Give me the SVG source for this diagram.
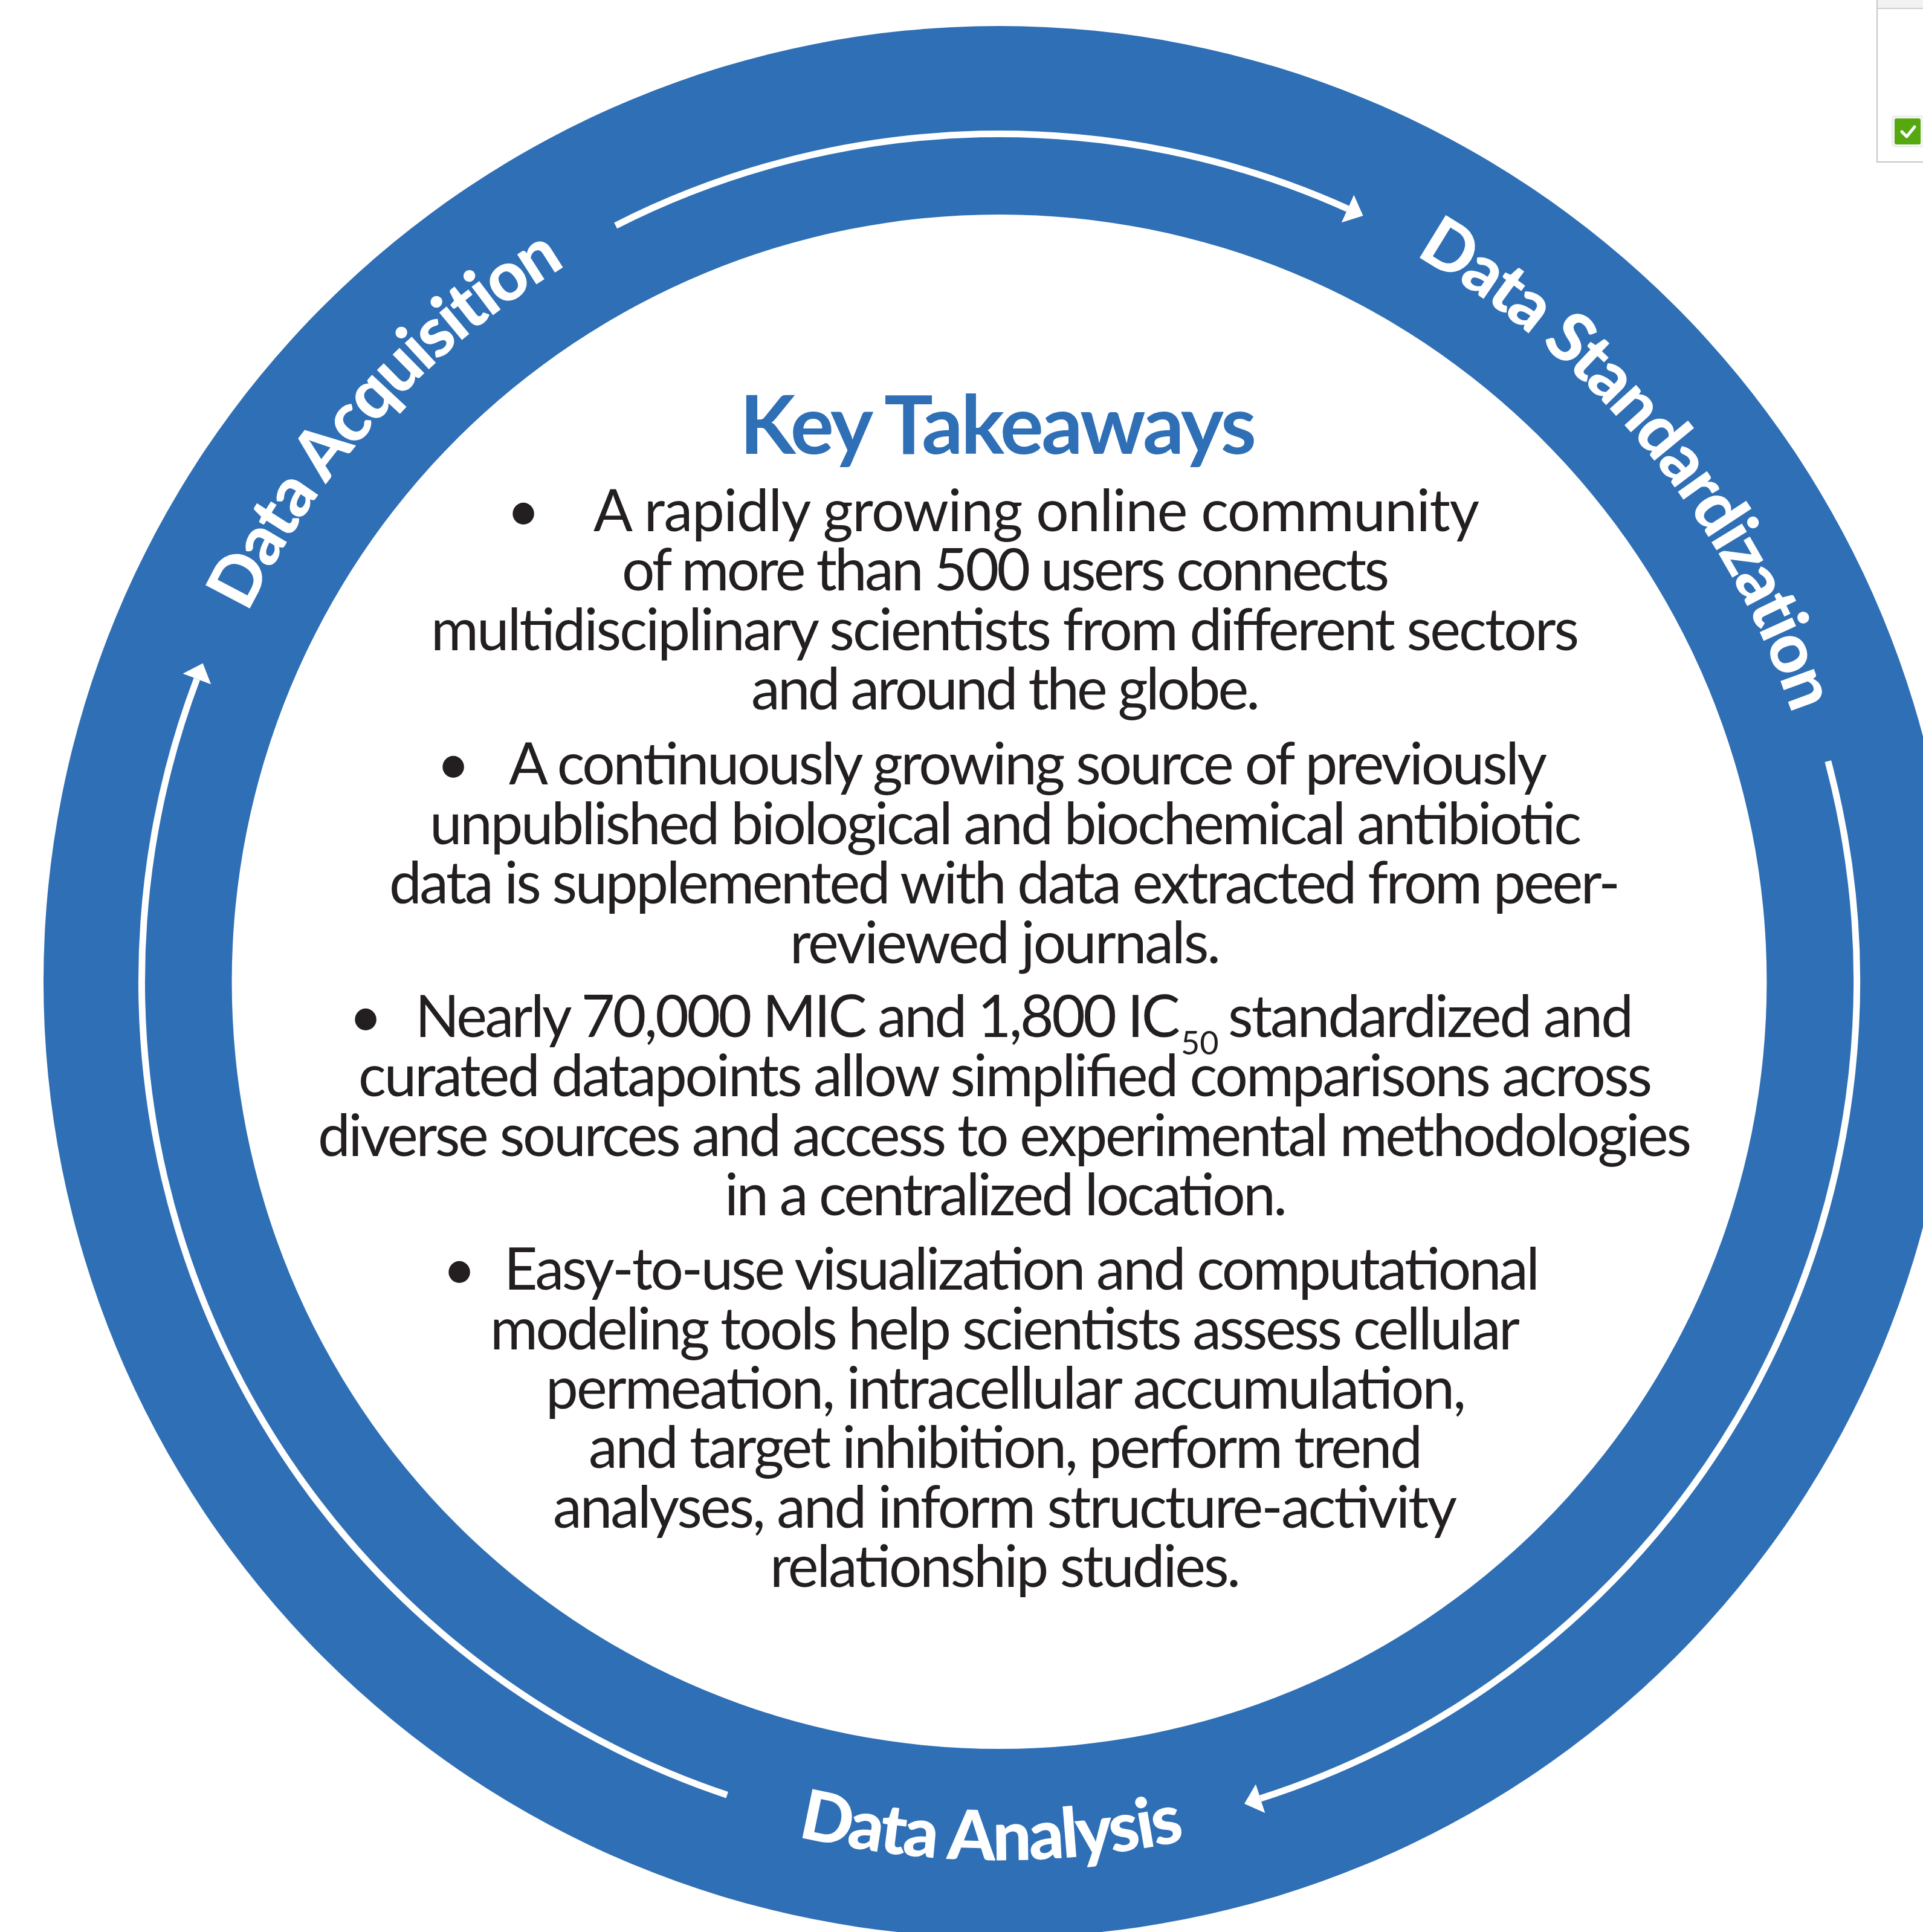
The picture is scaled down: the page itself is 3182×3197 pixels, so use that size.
<svg xmlns="http://www.w3.org/2000/svg" width="3182" height="3197" viewBox="0 0 3182 3197">
  <style>
    .body { font-family: Lato, "Liberation Sans", sans-serif; font-size: 96px; fill: #231F20; }
    .body.sub { font-size: 54px; }
    .mid { text-anchor: middle; }
    .title { font-family: Lato, "Liberation Sans", sans-serif; font-size: 135px; font-weight: 700; fill: #2F6FB6; }
    .ring-label { font-family: Lato, "Liberation Sans", sans-serif; font-size: 114px; font-weight: 900; letter-spacing: -3.5px; fill: #FFFFFF; }
    .flow { fill: none; stroke: #FFFFFF; stroke-width: 11; }
  </style>
  <defs>
    <marker id="head" markerUnits="userSpaceOnUse" markerWidth="40" markerHeight="60" viewBox="0 -30 40 60" refX="0" refY="0" orient="auto">
      <path d="M0,-25 L28,0 L0,25 z" fill="#FFFFFF"/>
    </marker>
    <!-- baselines for the curved stage labels (centre 1653.5,1624.5) -->
    <path id="arcAcq" d="M269.9,1687.3 A1385,1385 0 0 1 1590.7,240.9"/>
    <path id="arcStd" d="M1786.3,245.9 A1385,1385 0 0 1 3032.1,1757.3"/>
    <path id="arcAna" d="M707.2,2728.1 A1453.5,1453.5 0 0 0 2576.4,2747.4"/>
  </defs>

  <rect width="3182" height="3197" fill="#FFFFFF"/>

  <!-- blue ring -->
  <g id="ring">
    <path d="M1653.5,43 A1581.5,1581.5 0 1 1 1653.5,3206 A1581.5,1581.5 0 1 1 1653.5,43 Z M1653.5,355 A1269.5,1269.5 0 1 0 1653.5,2894 A1269.5,1269.5 0 1 0 1653.5,355 Z" fill="#2F6FB6" fill-rule="evenodd"/>
  </g>

  <!-- cycle arrows inside the ring -->
  <g id="connectors">
    <path class="flow" d="M1018.7,373.3 A1403,1403 0 0 1 2230.0,345.4" marker-end="url(#head)"/>
    <path class="flow" d="M3024.8,1259.6 A1419,1419 0 0 1 2085.7,2976.1" marker-end="url(#head)"/>
    <path class="flow" d="M1203.2,2970.2 A1419,1419 0 0 1 325.8,1123.6" marker-end="url(#head)"/>
  </g>

  <!-- stage labels -->
  <g id="stage-acquisition">
    <text class="ring-label"><textPath href="#arcAcq" startOffset="50%" text-anchor="middle">Data Acquisition</textPath></text>
  </g>
  <g id="stage-standardization">
    <text class="ring-label"><textPath href="#arcStd" startOffset="50%" text-anchor="middle">Data Standardization</textPath></text>
  </g>
  <g id="stage-analysis">
    <text class="ring-label"><textPath href="#arcAna" startOffset="50%" text-anchor="middle">Data Analysis</textPath></text>
  </g>

  <!-- centre panel -->
  <g id="key-takeaways">
    <text class="title" x="1224" y="751" textLength="855" lengthAdjust="spacing">Key Takeaways</text>

    <g id="point-community">
      <text class="body mid" x="866" y="879">•</text>
      <text class="body" x="982" y="879" textLength="1466" lengthAdjust="spacing">A rapidly growing online community</text>
      <text class="body mid" x="1664" y="977" textLength="1270" lengthAdjust="spacing">of more than 500 users connects</text>
      <text class="body mid" x="1663" y="1076" textLength="1900" lengthAdjust="spacing">multidisciplinary scientists from different sectors</text>
      <text class="body mid" x="1664" y="1174" textLength="842" lengthAdjust="spacing">and around the globe.</text>
    </g>

    <g id="point-source">
      <text class="body mid" x="750" y="1298">•</text>
      <text class="body" x="842" y="1298" textLength="1718" lengthAdjust="spacing">A continuously growing source of previously</text>
      <text class="body mid" x="1664" y="1397" textLength="1906" lengthAdjust="spacing">unpublished biological and biochemical antibiotic</text>
      <text class="body mid" x="1662.5" y="1495" textLength="2037" lengthAdjust="spacing">data is supplemented with data extracted from peer-</text>
      <text class="body mid" x="1663.5" y="1594" textLength="713" lengthAdjust="spacing">reviewed journals.</text>
    </g>

    <g id="point-datapoints">
      <text class="body mid" x="605" y="1716">•</text>
      <text class="body" x="687" y="1716" textLength="1266" lengthAdjust="spacing">Nearly 70,000 MIC and 1,800 IC</text>
      <text class="body sub" x="1954" y="1745">50</text>
      <text class="body" x="2032" y="1716" textLength="671" lengthAdjust="spacing">standardized and</text>
      <text class="body mid" x="1663.5" y="1814" textLength="2141" lengthAdjust="spacing">curated datapoints allow simplified comparisons across</text>
      <text class="body mid" x="1662.5" y="1913" textLength="2273" lengthAdjust="spacing">diverse sources and access to experimental methodologies</text>
      <text class="body mid" x="1664.5" y="2011" textLength="931" lengthAdjust="spacing">in a centralized location.</text>
    </g>

    <g id="point-tools">
      <text class="body mid" x="760" y="2134">•</text>
      <text class="body" x="834" y="2134" textLength="1714" lengthAdjust="spacing">Easy-to-use visualization and computational</text>
      <text class="body mid" x="1663" y="2233" textLength="1704" lengthAdjust="spacing">modeling tools help scientists assess cellular</text>
      <text class="body mid" x="1664.5" y="2331" textLength="1523" lengthAdjust="spacing">permeation, intracellular accumulation,</text>
      <text class="body mid" x="1664" y="2429" textLength="1380" lengthAdjust="spacing">and target inhibition, perform trend</text>
      <text class="body mid" x="1663" y="2528" textLength="1496" lengthAdjust="spacing">analyses, and inform structure-activity</text>
      <text class="body mid" x="1663.5" y="2626" textLength="779" lengthAdjust="spacing">relationship studies.</text>
    </g>
  </g>

  <!-- small panel in the top-right corner -->
  <g id="corner-panel">
    <rect x="3106" y="-2" width="90" height="270" fill="#FFFFFF" stroke="#C6C6C6" stroke-width="2"/>
    <rect x="3107" y="0" width="80" height="13" fill="#F2F2F2"/>
    <line x1="3106" y1="14" x2="3182" y2="14" stroke="#D0D0D0" stroke-width="2"/>
    <rect x="3131" y="192" width="60" height="51" rx="4" fill="#F3F3F3" stroke="#E2E2E2" stroke-width="1"/>
    <rect x="3135" y="196" width="43" height="43" rx="3" fill="#56A80F"/>
    <polyline points="3147,218 3155,226 3168,210" fill="none" stroke="#FFFFFF" stroke-width="5" stroke-linecap="round" stroke-linejoin="round"/>
  </g>
</svg>
